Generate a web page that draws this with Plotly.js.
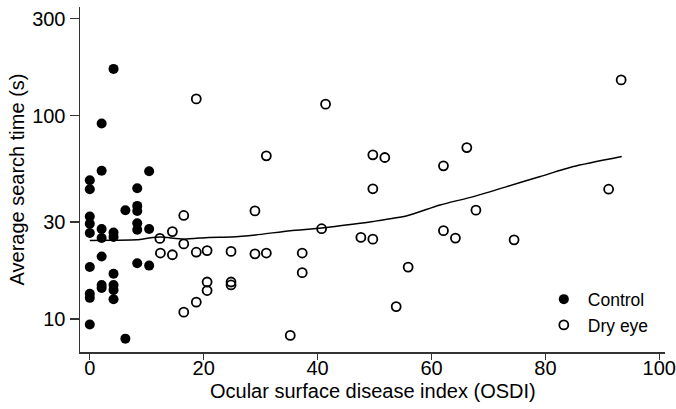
<!DOCTYPE html>
<html>
<head>
<meta charset="utf-8">
<script src="https://cdn.plot.ly/plotly-3.0.1.min.js"></script>
<style>html,body{margin:0;padding:0;background:#fff;}#chart{width:676px;height:409px;}</style>
</head>
<body>
<div id="chart"></div>
<script>
// Control group
var controlOSDI = [0,0,0,0,0,0,0,0,0,
  2.08,2.08,2.08,2.08,2.08,2.08,2.08,
  4.17,4.17,4.17,4.17,4.17,4.17,4.17,
  6.25,6.25,
  8.33,8.33,8.33,8.33,8.33,8.33,
  10.42,10.42,10.42];
var controlTime = [48.1,43.5,31.9,29.4,26.5,18.0,13.3,12.7,9.4,
  91.5,53.6,27.7,25.0,20.3,14.7,14.2,
  170,26.6,25.3,16.7,14.7,13.9,12.5,
  34.3,8.0,
  44.0,36.0,34.0,29.6,27.5,18.8,
  53.3,27.7,18.3];

// Dry eye group
var dryOSDI = [18.7,41.4,31.0,16.5,29.0,14.5,12.3,16.5,40.7,47.6,
  49.7,49.7,51.8,66.2,62.1,49.7,91.1,93.3,67.8,62.1,
  64.2,74.5,55.9,53.8,12.4,14.5,18.7,20.6,24.8,29.0,
  31.0,37.3,37.3,20.6,20.6,24.8,24.8,18.7,16.5,35.2];
var dryTime = [121,114,63.5,32.3,34.0,26.9,24.9,23.4,27.8,25.2,
  24.7,64.2,62.3,69.7,56.7,43.7,43.5,150,34.3,27.2,
  25.0,24.5,18.0,11.5,21.1,20.7,21.3,21.7,21.5,20.9,
  21.1,21.1,16.9,15.2,13.8,15.2,14.7,12.1,10.8,8.3];

// Lowess smoother
var fitOSDI = [0,4,8.3,10.4,12.4,16.5,20.9,24.8,29.1,35.2,40.7,47.5,49.8,55.7,61.5,67.4,73.2,79.1,84.9,93.4];
var fitTime = [24.3,24.4,24.5,25.0,25.3,24.7,25.2,25.3,25.9,27.2,28.0,29.6,30.2,32.2,36.4,40.0,44.8,50.2,56.2,63.0];

var yTicks = [10,30,100,300];
var xTicks = [0,20,40,60,80,100];
var xTitle = 'Ocular surface disease index (OSDI)';
var yTitle = 'Average search time (s)';

var FONT = 'Liberation Sans, Arial, Helvetica, sans-serif';

var traces = [
  {x: controlOSDI, y: controlTime, type: 'scatter', mode: 'markers', name: 'Control',
   marker: {symbol: 'circle', size: 10, color: '#000'}},
  {x: dryOSDI, y: dryTime, type: 'scatter', mode: 'markers', name: 'Dry eye',
   marker: {symbol: 'circle-open', size: 9, color: '#000', line: {width: 1.8, color: '#000'}}},
  {x: fitOSDI, y: fitTime, type: 'scatter', mode: 'lines', showlegend: false,
   line: {color: '#000', width: 1.5, shape: 'spline', smoothing: 0.6}, hoverinfo: 'skip'}
];

var layout = {
  width: 676, height: 409,
  margin: {l: 80, r: 11, t: 7, b: 57},
  paper_bgcolor: '#fff', plot_bgcolor: '#fff',
  font: {family: FONT, size: 20, color: '#000'},
  showlegend: true,
  legend: {x: 0.786, y: 0.205, xanchor: 'left', yanchor: 'top', itemwidth: 38,
    font: {family: FONT, size: 17.5, color: '#000'}, bgcolor: 'rgba(0,0,0,0)',
    tracegroupgap: 0},
  xaxis: {range: [-1.72, 101], tickvals: xTicks, ticktext: xTicks.map(String),
    ticks: 'outside', ticklen: 6, tickwidth: 1.3, tickcolor: '#333', ticklabelstandoff: -9,
    showline: true, linecolor: '#333', linewidth: 1.5, showgrid: false, zeroline: false,
    tickfont: {family: FONT, size: 20, color: '#000'}},
  yaxis: {type: 'log', range: [0.8374, 2.535], tickvals: yTicks, ticktext: yTicks.map(String),
    ticks: 'outside', ticklen: 9, tickwidth: 1.3, tickcolor: '#333',
    showline: true, linecolor: '#333', linewidth: 1.5, showgrid: false, zeroline: false,
    tickfont: {family: FONT, size: 20, color: '#000'},
    title: {text: yTitle, standoff: 2, font: {family: FONT, size: 20, color: '#000'}}},
  annotations: [
    {text: xTitle, xref: 'paper', yref: 'paper', x: 0.5, y: -0.113,
     xanchor: 'center', yanchor: 'middle', showarrow: false,
     font: {family: FONT, size: 20, color: '#000'}}
  ]
};

Plotly.newPlot('chart', traces, layout, {displayModeBar: false, staticPlot: true});
</script>
</body>
</html>
